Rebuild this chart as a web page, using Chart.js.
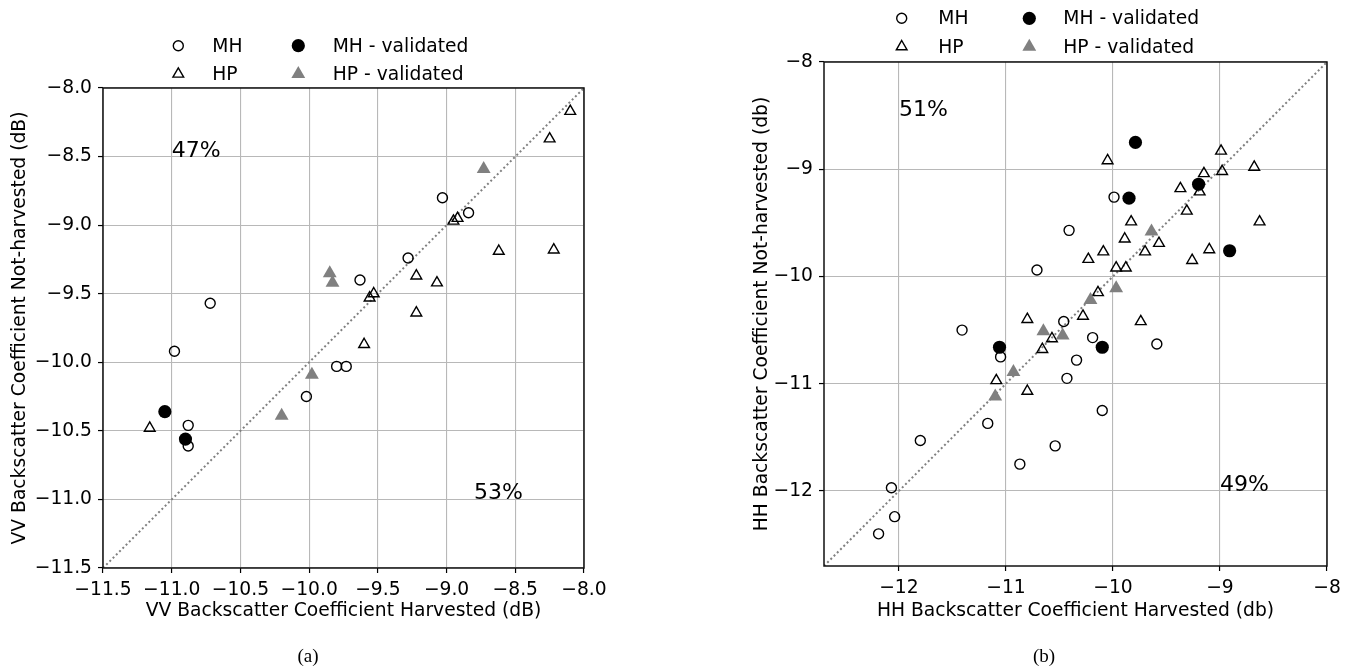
<!DOCTYPE html>
<html><head><meta charset="utf-8">
<script src="https://cdn.jsdelivr.net/npm/chart.js@4.4.0/dist/chart.umd.min.js"></script>
<style>
html,body{margin:0;padding:0;background:#fff;width:1354px;height:669px;overflow:hidden;}
.wrap{position:absolute;top:0;width:677px;height:669px;}
.cap{position:absolute;font-family:'Liberation Serif','Times New Roman',serif;font-size:19px;color:#000;transform:translate(-50%,-50%);white-space:nowrap;}
</style></head><body>
<div class="wrap" style="left:0"><canvas id="ca" width="677" height="669"></canvas></div>
<div class="wrap" style="left:677px"><canvas id="cb" width="677" height="669"></canvas></div>
<div class="cap" style="left:308px;top:656px">(a)</div>
<div class="cap" style="left:1044px;top:656px">(b)</div>
<script>
// ---------- Data: panel (a) VV ----------
const ticksA = [-11.5, -11.0, -10.5, -10.0, -9.5, -9.0, -8.5, -8.0];
const mhA_x = [-10.98, -10.72, -10.88, -10.88, -10.02, -9.80, -9.73, -9.63, -9.28, -9.03, -8.84];
const mhA_y = [-9.92, -9.57, -10.46, -10.61, -10.25, -10.03, -10.03, -9.40, -9.24, -8.80, -8.91];
const hpA_x = [-11.16, -8.10, -8.25, -8.62, -8.22, -9.22, -9.07, -9.22, -9.60, -9.56, -9.53, -8.95, -8.92];
const hpA_y = [-10.48, -8.17, -8.37, -9.19, -9.18, -9.37, -9.42, -9.64, -9.87, -9.53, -9.50, -8.97, -8.95];
const mhvA_x = [-11.05, -10.90];
const mhvA_y = [-10.36, -10.56];
const hpvA_x = [-8.73, -9.85, -9.83, -9.98, -10.20];
const hpvA_y = [-8.59, -9.35, -9.42, -10.09, -10.39];
const pctA_text = ['47%', '53%'];
const pctA_x = [-11.0, -8.8];
const pctA_y = [-8.5, -11.0];

// ---------- Data: panel (b) HH ----------
const ticksB = [-12, -11, -10, -9, -8];
const mhB_x = [-12.07, -12.04, -12.19, -11.80, -10.87, -10.54, -10.71, -11.41, -11.05, -10.46, -10.34, -10.43, -11.17, -10.19, -9.59, -10.10, -9.99, -10.41];
const mhB_y = [-11.97, -12.24, -12.40, -11.53, -11.75, -11.58, -9.94, -10.50, -10.75, -10.42, -10.78, -10.95, -11.37, -10.57, -10.63, -11.25, -9.26, -9.57];
const hpB_x = [-10.05, -9.83, -9.89, -9.57, -10.09, -10.23, -9.70, -9.26, -9.10, -9.97, -9.88, -8.63, -8.99, -8.68, -9.15, -8.98, -9.19, -9.37, -9.31, -10.14, -10.28, -9.74, -10.80, -10.57, -10.66, -11.09, -10.80];
const hpB_y = [-8.92, -9.49, -9.65, -9.69, -9.77, -9.84, -9.77, -9.85, -9.75, -9.92, -9.92, -9.49, -8.83, -8.98, -9.04, -9.02, -9.21, -9.18, -9.39, -10.15, -10.37, -10.42, -10.40, -10.58, -10.68, -10.97, -11.07];
const mhvB_x = [-9.79, -9.85, -9.20, -8.91, -11.06, -10.10];
const mhvB_y = [-8.75, -9.27, -9.14, -9.76, -10.66, -10.66];
const hpvB_x = [-9.64, -9.97, -10.21, -10.47, -10.65, -10.93, -11.10];
const hpvB_y = [-9.58, -10.11, -10.22, -10.55, -10.51, -10.89, -11.12];
const pctB_text = ['51%', '49%'];
const pctB_x = [-12.0, -9.0];
const pctB_y = [-8.5, -12.0];

const legendLabels = ['MH', 'MH - validated', 'HP', 'HP - validated'];

// ---------- Styles ----------
const FONT = "'DejaVu Sans', sans-serif";
const FS = 18.7;
const STY = {
  mh:  {pointStyle:'circle',   radius:5,   borderWidth:1.4, borderColor:'#000', backgroundColor:'rgba(0,0,0,0)'},
  mhv: {pointStyle:'circle',   radius:6.6, borderWidth:0,   borderColor:'#000', backgroundColor:'#000'},
  hp:  {pointStyle:'triangle', radius:6.2, borderWidth:1.4, borderColor:'#000', backgroundColor:'rgba(0,0,0,0)'},
  hpv: {pointStyle:'triangle', radius:8,   borderWidth:0,   borderColor:'#808080', backgroundColor:'#808080'}
};

function pts(xs, ys) { return xs.map((x, i) => ({x: x, y: ys[i]})); }
function fmt(v, dec) { return (dec ? Number(v).toFixed(dec) : String(v)).replace('-', '\u2212'); }
function ds(label, data, s) {
  return {label, data, pointStyle: s.pointStyle, pointRadius: s.radius, pointHoverRadius: s.radius,
    pointBorderWidth: s.borderWidth, pointBorderColor: s.borderColor, pointBackgroundColor: s.backgroundColor,
    borderColor: s.borderColor, backgroundColor: s.backgroundColor, showLine: false};
}

const deco = {
  id: 'deco',
  afterDatasetsDraw(chart, args, o) {
    const ctx = chart.ctx, xs = chart.scales.x, ys = chart.scales.y;
    ctx.save();
    ctx.font = '22px ' + FONT;
    ctx.fillStyle = '#000';
    ctx.textAlign = 'left';
    ctx.textBaseline = 'alphabetic';
    o.texts.forEach((t, i) => ctx.fillText(t, xs.getPixelForValue(o.tx[i]), ys.getPixelForValue(o.ty[i])));
    ctx.restore();
  },
  afterDraw(chart, args, o) {
    const ctx = chart.ctx, a = chart.chartArea;
    ctx.save();
    ctx.strokeStyle = '#111';
    ctx.lineWidth = 1.5;
    ctx.strokeRect(a.left, a.top, a.right - a.left, a.bottom - a.top);
    // legend
    const L = o.legend;
    const styles = [STY.mh, STY.mhv, STY.hp, STY.hpv];
    const mx = [L.m1, L.m2, L.m1, L.m2], tx = [L.t1, L.t2, L.t1, L.t2], ry = [L.r1, L.r1, L.r2, L.r2];
    ctx.font = FS + 'px ' + FONT;
    ctx.textAlign = 'left';
    ctx.textBaseline = 'middle';
    legendLabels.forEach((lab, i) => {
      const s = styles[i];
      ctx.fillStyle = s.backgroundColor;
      ctx.strokeStyle = s.borderColor;
      ctx.lineWidth = s.borderWidth;
      Chart.helpers.drawPoint(ctx, {pointStyle: s.pointStyle, radius: s.radius, rotation: 0, borderWidth: s.borderWidth}, mx[i], ry[i]);
      ctx.fillStyle = '#000';
      ctx.fillText(lab, tx[i], ry[i] + 1);
    });
    ctx.restore();
  }
};

function axis(min, max, ticks, dec, title, fitProp, fitVal, titlePad) {
  return {
    type: 'linear', min, max,
    afterBuildTicks: s => { s.ticks = ticks.map(v => ({value: v})); },
    afterFit: s => { s[fitProp] = fitVal; },
    ticks: {font: {family: FONT, size: FS}, color: '#000', padding: 6, autoSkip: false, maxRotation: 0,
            callback: v => fmt(v, dec)},
    grid: {color: '#b8b8b8', lineWidth: 1.1, tickColor: '#000', tickLength: 5, tickWidth: 1.2, drawTicks: true},
    border: {display: false},
    title: {display: true, text: title, color: '#000', font: {family: FONT, size: FS}, padding: titlePad}
  };
}

function make(id, p) {
  const diag = {label: 'diag', data: [{x: p.lo, y: p.lo}, {x: p.hi, y: p.hi}], showLine: true,
    borderColor: '#808080', borderWidth: 2, borderDash: [2, 2.6], pointRadius: 0, pointHoverRadius: 0, fill: false};
  new Chart(document.getElementById(id), {
    type: 'scatter',
    data: {datasets: [
      ds('HP - validated', p.hpv, STY.hpv),
      ds('MH - validated', p.mhv, STY.mhv),
      ds('HP', p.hp, STY.hp),
      ds('MH', p.mh, STY.mh),
      diag
    ]},
    options: {
      responsive: false, animation: false, devicePixelRatio: 1, events: [],
      layout: {padding: p.pad},
      plugins: {legend: {display: false}, tooltip: {enabled: false},
        deco: {texts: p.texts, tx: p.tx, ty: p.ty, legend: p.legend}},
      scales: {
        x: axis(p.lo, p.hi, p.ticks, p.dec, p.xTitle, 'height', p.xH, {top: 0, bottom: 47}),
        y: axis(p.lo, p.hi, p.ticks, p.dec, p.yTitle, 'width', p.yW, {top: p.yTitlePad, bottom: 0})
      }
    },
    plugins: [deco]
  });
}

make('ca', {
  lo: -11.5, hi: -8.0, ticks: ticksA, dec: 1,
  mh: pts(mhA_x, mhA_y), hp: pts(hpA_x, hpA_y), mhv: pts(mhvA_x, mhvA_y), hpv: pts(hpvA_x, hpvA_y),
  texts: pctA_text, tx: pctA_x, ty: pctA_y,
  xTitle: 'VV Backscatter Coefficient Harvested (dB)',
  yTitle: 'VV Backscatter Coefficient Not-harvested (dB)',
  pad: {left: 0, top: 88, right: 93, bottom: 0}, xH: 101, yW: 103, yTitlePad: 9,
  legend: {m1: 178.3, t1: 212.3, m2: 298.3, t2: 332.7, r1: 45.7, r2: 74}
});
make('cb', {
  lo: -12.7, hi: -8.0, ticks: ticksB, dec: 0,
  mh: pts(mhB_x, mhB_y), hp: pts(hpB_x, hpB_y), mhv: pts(mhvB_x, mhvB_y), hpv: pts(hpvB_x, hpvB_y),
  texts: pctB_text, tx: pctB_x, ty: pctB_y,
  xTitle: 'HH Backscatter Coefficient Harvested (db)',
  yTitle: 'HH Backscatter Coefficient Not-harvested (db)',
  pad: {left: 0, top: 62, right: 27, bottom: 0}, xH: 103, yW: 147, yTitlePad: 74,
  legend: {m1: 224.7, t1: 261.3, m2: 352.3, t2: 386.3, r1: 18.3, r2: 46.7}
});
</script>
</body></html>
